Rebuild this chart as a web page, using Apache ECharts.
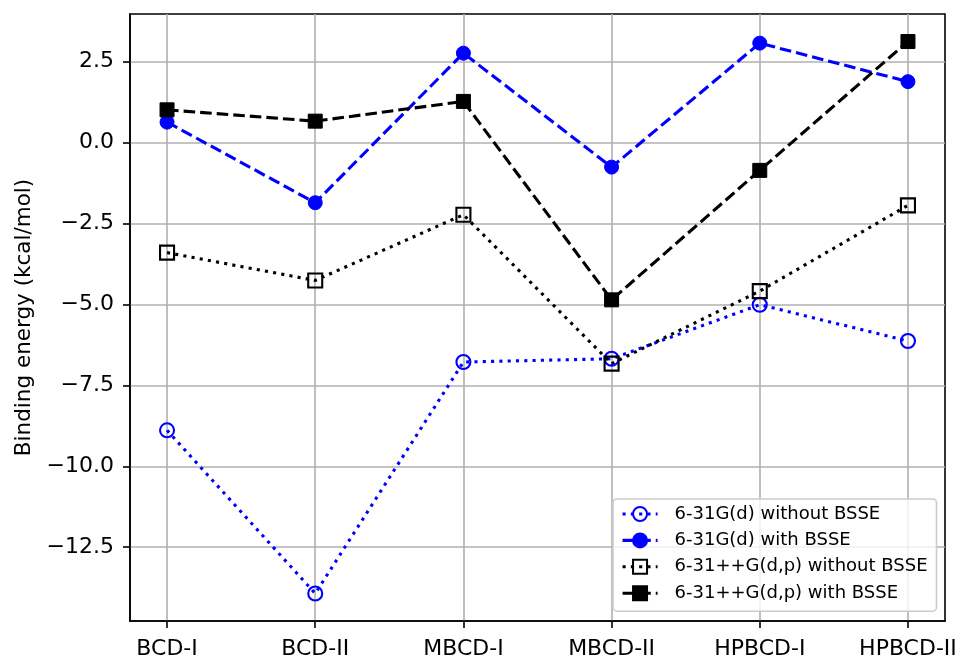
<!DOCTYPE html>
<html>
<head>
<meta charset="utf-8">
<script src="https://cdn.jsdelivr.net/npm/echarts@6/dist/echarts.min.js"></script>
<style>html,body{margin:0;padding:0;background:#fff}#c{width:960px;height:657px}</style>
</head>
<body>
<div id="c"></div>
<script>
const categories = ['BCD-I', 'BCD-II', 'MBCD-I', 'MBCD-II', 'HPBCD-I', 'HPBCD-II'];
const s631NoBSSE = [-8.89, -13.93, -6.78, -6.68, -5.01, -6.13];
const s631BSSE = [0.63, -1.86, 2.76, -0.76, 3.07, 1.88];
const s631ppNoBSSE = [-3.40, -4.26, -2.23, -6.83, -4.59, -1.94];
const s631ppBSSE = [1.01, 0.66, 1.27, -4.86, -0.86, 3.12];
const yTicks = [-12.5, -10, -7.5, -5, -2.5, 0, 2.5];
const names = ['6-31G(d) without BSSE', '6-31G(d) with BSSE', '6-31++G(d,p) without BSSE', '6-31++G(d,p) with BSSE'];

const FONT = 'DejaVu Sans';
const toPts = arr => arr.map((v, i) => [i, v]);
const xIdx = categories.map((c, i) => i);
const dashed = [11.6, 5];
const dotted = [3.1, 5.2];

function mk(name, data, color, symbol, filled, dash) {
  return {
    name, type: 'line', data: toPts(data),
    symbol, symbolSize: 14,
    lineStyle: { color, width: 3.1, type: dash, cap: 'butt' },
    itemStyle: filled ? { color, borderColor: color, borderWidth: 1 } : { color: 'rgba(0,0,0,0)', borderColor: color, borderWidth: 2.1 },
    emphasis: { disabled: true },
    silent: true
  };
}

const chart = echarts.init(document.getElementById('c'), null, { renderer: 'canvas' });
chart.setOption({
  animation: false,
  backgroundColor: '#fff',
  textStyle: { fontFamily: FONT },
  grid: { left: 130, right: 15, top: 14, bottom: 36, outerBoundsMode: 'none', containLabel: false, show: true, borderColor: '#000', borderWidth: 1.6, backgroundColor: 'transparent' },
  xAxis: {
    type: 'value', min: -0.25, max: 5.25,
    axisLine: { show: true, onZero: false, lineStyle: { color: '#000', width: 1.6 } },
    axisTick: { show: true, customValues: xIdx, length: 7, lineStyle: { color: '#000', width: 1.6 } },
    axisLabel: { customValues: xIdx, formatter: v => categories[Math.round(v)] || '', color: '#000', fontSize: 22, fontFamily: FONT, margin: 17 },
    splitLine: { show: true, lineStyle: { color: '#b0b0b0', width: 1.6 } }
  },
  yAxis: {
    type: 'value', min: -14.78, max: 3.97,
    name: 'Binding energy (kcal/mol)', nameLocation: 'middle', nameGap: 95,
    nameTextStyle: { color: '#000', fontSize: 21.5, fontFamily: FONT },
    axisLine: { show: true, onZero: false, lineStyle: { color: '#000', width: 1.6 } },
    axisTick: { show: true, customValues: yTicks, length: 7, lineStyle: { color: '#000', width: 1.6 } },
    axisLabel: { customValues: yTicks, formatter: v => (v < 0 ? '\u2212' : '') + Math.abs(v).toFixed(1), color: '#000', fontSize: 22, fontFamily: FONT, margin: 16 },
    splitLine: { show: true, lineStyle: { color: '#b0b0b0', width: 1.6 } }
  },
  legend: {
    orient: 'vertical', left: 613, top: 499,
    padding: [6, 9, 9, 8],
    itemWidth: 35, itemHeight: 17.5, itemGap: 8.4,
    backgroundColor: 'rgba(255,255,255,0.8)', borderColor: '#cccccc', borderWidth: 1.6, borderRadius: 4,
    lineStyle: { width: 3.1 },
    textStyle: { color: '#000', fontSize: 18, fontFamily: FONT, lineHeight: 18, padding: [0, 0, 0, 12] },
    data: names,
    selectedMode: false
  },
  series: [
    mk(names[0], s631NoBSSE, '#0000ff', 'circle', false, dotted),
    mk(names[1], s631BSSE, '#0000ff', 'circle', true, dashed),
    mk(names[2], s631ppNoBSSE, '#000000', 'rect', false, dotted),
    mk(names[3], s631ppBSSE, '#000000', 'rect', true, dashed)
  ]
});
</script>
</body>
</html>
